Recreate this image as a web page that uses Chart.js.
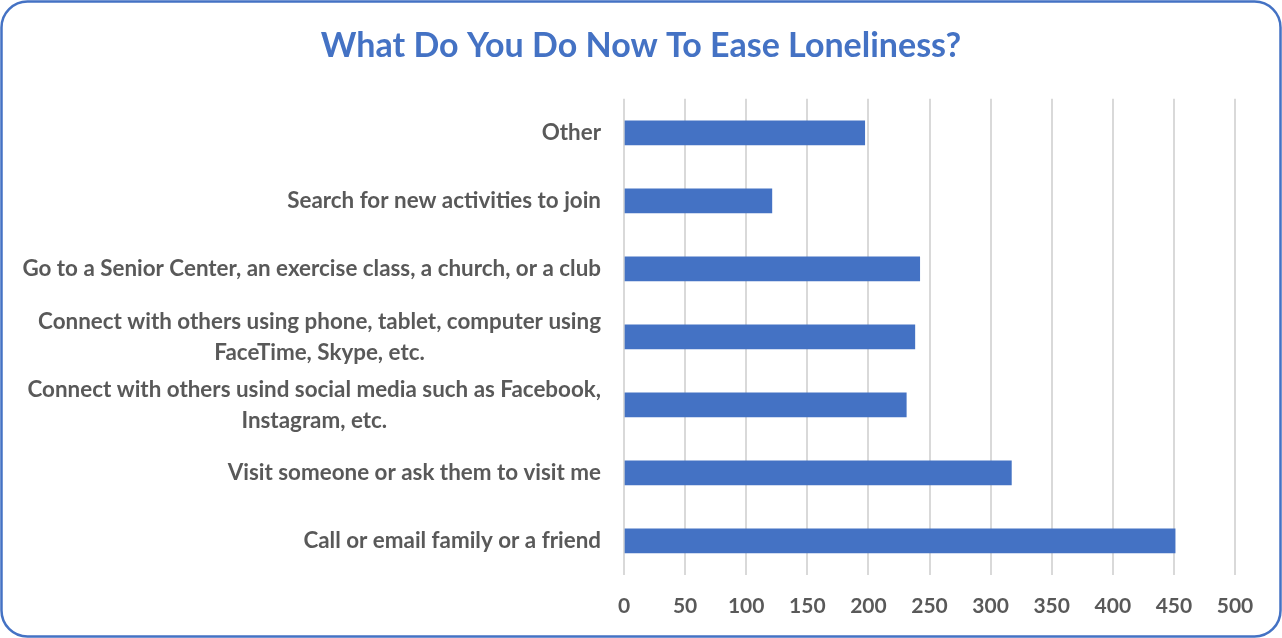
<!DOCTYPE html>
<html>
<head>
<meta charset="utf-8">
<script src="https://cdn.jsdelivr.net/npm/chart.js@4/dist/chart.umd.min.js"></script>
<style>
  html, body { margin: 0; padding: 0; background: #fff; }
  #wrap { width: 1282px; height: 638px; }
</style>
</head>
<body>
<div id="wrap"><canvas id="grafica" width="1282" height="638"></canvas></div>
<script>
// Datos del gráfico
const titulo = 'What Do You Do Now To Ease Loneliness?';
const categorias = [
  ['Other'],
  ['Search for new activities to join '],
  ['Go to a Senior Center, an exercise class, a church, or a club'],
  ['Connect with others using phone, tablet, computer using', 'FaceTime, Skype, etc.'],
  ['Connect with others usind social media such as Facebook,', 'Instagram, etc.'],
  ['Visit someone or ask them to visit me'],
  ['Call or email family or a friend']
];
const valores = [197, 121, 242, 238, 231, 317, 451];
const marcasX = [0, 50, 100, 150, 200, 250, 300, 350, 400, 450, 500];

const azul = '#4472C4';
const gris = '#595959';
const fuente = 'Lato';

// Marco redondeado alrededor del gráfico
const marco = {
  id: 'marco',
  beforeDraw(chart) {
    const ctx = chart.ctx;
    ctx.save();
    ctx.fillStyle = '#fff';
    ctx.fillRect(0, 0, chart.width, chart.height);
    ctx.beginPath();
    ctx.roundRect(1.5, 1.5, chart.width - 3, chart.height - 3, 26);
    ctx.strokeStyle = azul;
    ctx.lineWidth = 2.5;
    ctx.stroke();
    ctx.restore();
  }
};

// Etiquetas de categoría (multilínea centrada, como Excel)
const etiquetasY = {
  id: 'etiquetasY',
  afterDraw(chart) {
    const ctx = chart.ctx;
    const escala = chart.scales.y;
    const derecha = chart.chartArea.left - 23;
    const alto = 31;
    ctx.save();
    ctx.font = 'bold 22.4px ' + fuente;
    ctx.fillStyle = gris;
    ctx.textAlign = 'center';
    ctx.textBaseline = 'middle';
    categorias.forEach((lineas, i) => {
      const y = escala.getPixelForValue(i);
      const ancho = Math.max(...lineas.map(l => ctx.measureText(l.trim()).width));
      const x = derecha - ancho / 2;
      const y0 = y - (lineas.length - 1) * alto / 2;
      lineas.forEach((l, j) => ctx.fillText(l.trim(), x, y0 + j * alto));
    });
    ctx.restore();
  }
};

new Chart(document.getElementById('grafica'), {
  type: 'bar',
  data: {
    labels: categorias,
    datasets: [{
      data: valores,
      backgroundColor: azul,
      borderWidth: 0,
      barThickness: 24
    }]
  },
  options: {
    indexAxis: 'y',
    responsive: false,
    animation: false,
    layout: { padding: { top: 0, left: 47, right: 47, bottom: 0 } },
    plugins: {
      legend: { display: false },
      tooltip: { enabled: false },
      title: {
        display: true,
        text: titulo,
        color: azul,
        font: { family: fuente, size: 34, weight: 'bold' },
        padding: { top: 26, bottom: 32 }
      }
    },
    scales: {
      x: {
        min: 0,
        max: 500,
        afterBuildTicks(scale) {
          scale.ticks = marcasX.map(v => ({ value: v }));
        },
        grid: { color: '#d9d9d9', lineWidth: 2, drawTicks: false },
        border: { display: false },
        ticks: {
          color: gris,
          padding: 19,
          font: { family: fuente, size: 21, weight: 'bold' }
        }
      },
      y: {
        grid: { display: false },
        border: { display: false },
        ticks: { display: false },
        afterFit(scale) {
          scale.width = 577;
        }
      }
    }
  },
  plugins: [marco, etiquetasY]
});
</script>
</body>
</html>
